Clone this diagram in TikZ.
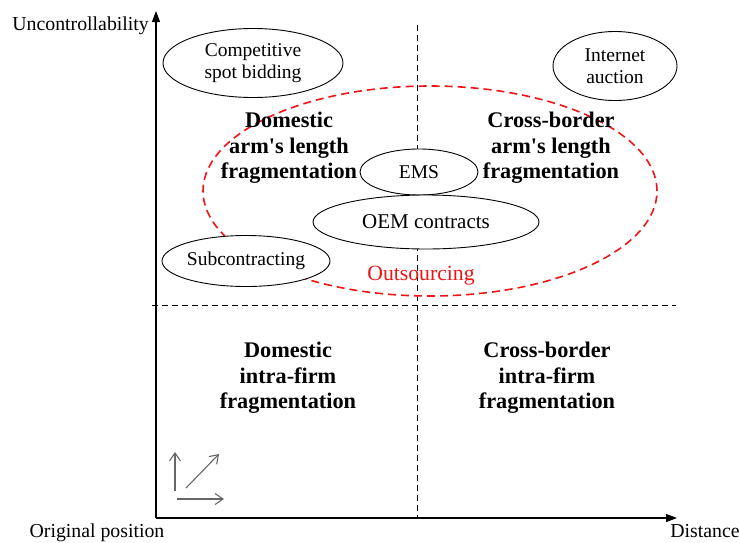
\documentclass[tikz,border=0pt]{standalone}
\usepackage{fontspec}
\setmainfont{Liberation Serif}
\usetikzlibrary{shapes.geometric,arrows.meta}
\definecolor{outred}{RGB}{240,20,20}
\newcommand{\apo}{\textquotesingle}
\begin{document}
\begin{tikzpicture}[x=1pt,y=-1pt,
  oval/.style={ellipse,draw=black,line width=0.9pt,fill=white,inner sep=0pt,align=center,
    font=\fontsize{19.5}{22}\selectfont},
  region/.style={align=center,font=\bfseries\fontsize{22.3}{25.5}\selectfont},
  axislabel/.style={font=\fontsize{19.8}{22}\selectfont,inner sep=0pt},
  axisline/.style={line width=1.2pt,-{Triangle[length=11pt,width=8pt]}},
  divider/.style={line width=0.9pt,dash pattern=on 6pt off 4pt},
  small/.style={draw=black!60,line width=1.1pt,-{Straight Barb[length=8pt,width=11pt]}}]
\useasboundingbox (0,0) rectangle (740,542);
% axes
\coordinate (O) at (156,518);
\coordinate (Ytop) at (156,11);
\coordinate (Xend) at (677,518);
\draw[axisline] (O) -- (Ytop);
\draw[axisline] (O) -- (Xend);
% dividers
\coordinate (vt) at (417,25);
\coordinate (vb) at (417,518);
\coordinate (hl) at (152,305);
\coordinate (hr) at (676,305);
\draw[divider] (vt) -- (vb);
\draw[divider] (hl) -- (hr);
% outsourcing ellipse
\node[ellipse,draw=outred,line width=1.6pt,dash pattern=on 8pt off 5pt,
  minimum width=454pt,minimum height=210pt,inner sep=0pt] (out) at (430,191) {};
% ovals
\node[oval,minimum width=180pt,minimum height=69pt] (csb) at (253,63) {Competitive\\spot bidding};
\node[oval,minimum width=124pt,minimum height=69pt] (ia) at (615,66) {Internet\\auction};
\node[oval,minimum width=118pt,minimum height=46pt] (ems) at (419,172) {EMS};
\node[oval,minimum width=226pt,minimum height=54pt,font=\fontsize{21}{24}\selectfont] (oem) at (426,222) {OEM contracts};
\node[oval,minimum width=168pt,minimum height=51pt] (sub) at (246,261) {Subcontracting};
\node[text=outred,font=\fontsize{21.7}{24}\selectfont,inner sep=0pt] (outl) at (421,276) {Outsourcing};
% region labels
\node[region] (dal) at (289,148) {Domestic\\arm\apo s length\\fragmentation};
\node[region] (cal) at (551,148) {Cross-border\\arm\apo s length\\fragmentation};
\node[region] (dif) at (288,378) {Domestic\\intra-firm\\fragmentation};
\node[region] (cif) at (547,378) {Cross-border\\intra-firm\\fragmentation};
% axis labels
\node[axislabel,anchor=base east] (yl) at (149,30) {Uncontrollability};
\node[axislabel,anchor=base] (ol) at (97,537) {Original position};
\node[axislabel,anchor=base] (xl) at (705,537) {Distance};
% small arrows
\coordinate (a1s) at (175,491);
\coordinate (a1e) at (175,452);
\coordinate (a2s) at (186,488);
\coordinate (a2e) at (219,454);
\coordinate (a3s) at (177,499);
\coordinate (a3e) at (224,499);
\draw[small] (a1s) -- (a1e);
\draw[small] (a2s) -- (a2e);
\draw[small] (a3s) -- (a3e);
\end{tikzpicture}
\end{document}
